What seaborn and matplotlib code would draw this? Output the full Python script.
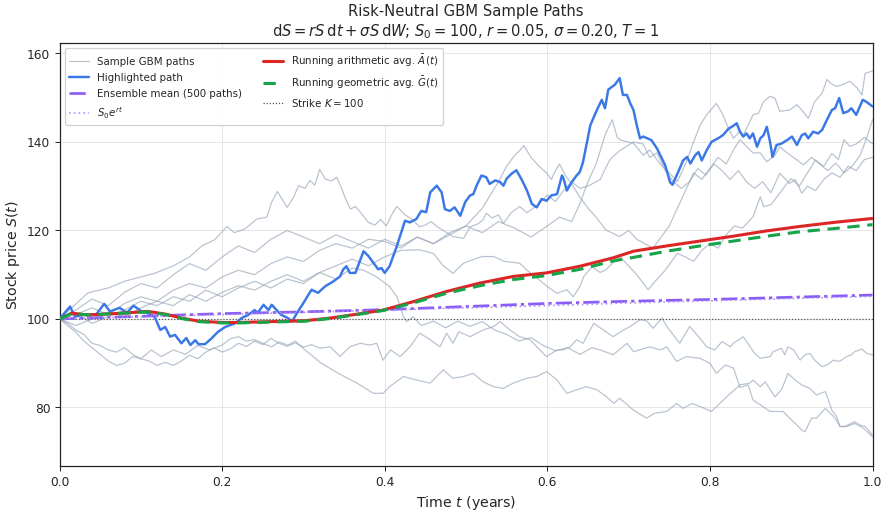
import numpy as np
import pandas as pd
import matplotlib
matplotlib.use("Agg")
import matplotlib.pyplot as plt
import seaborn as sns

# ---------------- data ----------------
blue_t = [0, 0.013, 0.019, 0.03, 0.045, 0.055, 0.062, 0.074, 0.083, 0.091, 0.101, 0.109, 0.117, 0.124, 0.13,
          0.136, 0.142, 0.15, 0.156, 0.161, 0.167, 0.171, 0.179, 0.187, 0.195, 0.204, 0.216, 0.224, 0.232, 0.24,
          0.244, 0.251, 0.257, 0.261, 0.267, 0.273, 0.281, 0.286, 0.292, 0.3, 0.31, 0.318, 0.327, 0.337, 0.345,
          0.349, 0.353, 0.357, 0.364, 0.374, 0.38, 0.386, 0.392, 0.396, 0.4, 0.406, 0.415, 0.425, 0.431, 0.439,
          0.445, 0.451, 0.456, 0.464, 0.47, 0.474, 0.48, 0.486, 0.493, 0.499, 0.505, 0.509, 0.513, 0.519, 0.525,
          0.529, 0.536, 0.542, 0.546, 0.55, 0.556, 0.562, 0.569, 0.575, 0.581, 0.587, 0.593, 0.599, 0.605, 0.612,
          0.618, 0.62, 0.624, 0.63, 0.636, 0.64, 0.644, 0.653, 0.661, 0.667, 0.671, 0.675, 0.683, 0.689, 0.693,
          0.698, 0.702, 0.706, 0.71, 0.714, 0.718, 0.728, 0.735, 0.741, 0.745, 0.751, 0.754, 0.761, 0.767, 0.772,
          0.776, 0.782, 0.786, 0.79, 0.796, 0.802, 0.806, 0.81, 0.816, 0.823, 0.827, 0.833, 0.837, 0.841, 0.845,
          0.849, 0.853, 0.858, 0.862, 0.866, 0.87, 0.874, 0.877, 0.882, 0.888, 0.895, 0.901, 0.907, 0.913, 0.917,
          0.921, 0.927, 0.933, 0.938, 0.944, 0.95, 0.954, 0.959, 0.964, 0.97, 0.974, 0.98, 0.988, 0.992, 1.0]
blue_v = [100, 102.8, 100.5, 101, 101, 103.4, 101.7, 102.5, 101.4, 103, 101.7, 101.3, 100.5, 97.5, 98.2,
          96, 96.4, 94.5, 95.7, 94.1, 95.2, 94.3, 94.3, 95.6, 97.1, 98.2, 99, 100.2, 100.9, 102,
          101.4, 103.2, 102, 103.2, 102, 100.9, 100.2, 99.4, 101.3, 103.6, 106.6, 105.9, 107.4, 108.5, 109.6,
          111.2, 111.9, 110.4, 110.4, 115.3, 114.2, 112.7, 111.2, 111.5, 110.4, 111.9, 116.5, 122.2, 121.8, 122.6,
          124.4, 124.1, 128.6, 130.1, 128.6, 124.8, 124.4, 125.2, 123.3, 126.4, 127.9, 128.2, 130.1, 132.4, 132,
          130.5, 131.3, 130.9, 130.1, 131.7, 132.8, 133.6, 131.3, 129, 126, 125.2, 127.1, 126.7, 127.9, 128.2,
          132.4, 131.7, 129, 130.9, 132.4, 133.2, 135.5, 143.8, 147.2, 149.5, 147.6, 151.8, 152.9, 154.4, 150.6,
          150.6, 148.7, 147.2, 143.8, 140.8, 141.2, 140.4, 138.5, 136.2, 134.7, 130.9, 130.3, 133.2, 135.8, 136.6,
          135.1, 137, 137.7, 135.8, 138.1, 140, 140.4, 140.8, 141.5, 143, 143.4, 144.2, 142.3, 141.2, 141.9,
          140.8, 141.9, 138.9, 140.8, 141.5, 143.4, 140, 136.6, 139.3, 139.6, 140.4, 141.2, 139.3, 141.5, 141.9,
          140.8, 142.3, 141.9, 142.7, 145, 147.2, 147.6, 149.9, 146.5, 146.9, 147.6, 146.1, 149.5, 149.1, 148]

avg_t = [0, 0.015, 0.035, 0.077, 0.109, 0.13, 0.15, 0.171, 0.2, 0.22, 0.261, 0.302, 0.333, 0.363, 0.398,
         0.435, 0.476, 0.517, 0.558, 0.599, 0.64, 0.681, 0.706, 0.747, 0.788, 0.829, 0.87, 0.911, 0.952, 1.0]
arith_v = [100, 101.3, 100.9, 101.3, 101.7, 101.1, 100.2, 99.5, 99.2, 99.2, 99.4, 99.6, 100.2, 101.0, 102.0,
           103.9, 106.2, 108.1, 109.6, 110.4, 111.9, 113.8, 115.3, 116.5, 117.6, 118.7, 119.9, 120.9, 121.8, 122.7]
geom_v = [100, 101.2, 100.9, 101.3, 101.6, 101.0, 100.1, 99.4, 99.1, 99.1, 99.3, 99.5, 100.1, 100.9, 101.9,
          103.6, 105.8, 107.5, 108.9, 109.8, 111.2, 113.1, 113.9, 115.3, 116.5, 117.6, 118.7, 119.7, 120.4, 121.3]

ref_t = [0, 0.1, 0.2, 0.3, 0.4, 0.5, 0.6, 0.7, 0.8, 0.9, 1.0]
ens_v = [100, 100.6, 101.2, 101.6, 102.1, 102.8, 103.5, 104.0, 104.4, 104.9, 105.4]
fwd_v = [100, 100.5, 101.0, 101.5, 102.0, 102.5, 103.0, 103.6, 104.1, 104.6, 105.1]
strike = 100

# ---- grey sample paths (time, value) ----
low_t = [0, 0.01, 0.02, 0.03, 0.04, 0.05, 0.06, 0.07, 0.08, 0.09, 0.1, 0.113, 0.125, 0.14, 0.155, 0.17, 0.185,
         0.2, 0.21, 0.22, 0.23, 0.24, 0.25, 0.261, 0.27, 0.281, 0.29, 0.302, 0.312, 0.322, 0.333, 0.343, 0.366,
         0.386, 0.398, 0.406, 0.423, 0.439, 0.456, 0.472, 0.484, 0.497, 0.509, 0.521, 0.534, 0.546, 0.558, 0.575,
         0.587, 0.599, 0.612, 0.624, 0.636, 0.648, 0.661, 0.673, 0.682, 0.689, 0.706, 0.722, 0.732, 0.747, 0.759,
         0.767, 0.778, 0.788, 0.802, 0.812, 0.823, 0.837, 0.849, 0.853, 0.862, 0.868, 0.88, 0.888, 0.896, 0.905,
         0.913, 0.923, 0.931, 0.942, 0.95, 0.956, 0.96, 0.966, 0.978, 0.985, 0.991, 1.0]
low_v = [100, 98.5, 97, 95, 93.5, 92, 90.5, 89.5, 90, 91.5, 91, 93, 91.5, 93, 92, 94, 93,
         94.1, 95.5, 96, 95, 95.3, 94.5, 93.7, 94.8, 94.1, 95, 93, 91.5, 90, 88.8, 87.7, 85.5,
         83.2, 83.2, 84.7, 87, 86.2, 85.5, 88.5, 86.6, 87, 87.7, 85.8, 84.7, 84.3, 85.5, 86.6,
         87, 88.1, 86.2, 83.2, 84, 84.7, 84, 82.4, 80.9, 82.1, 79.4, 77.6, 78.7, 79.1, 80.9,
         79.8, 80.9, 80.2, 79.1, 80.9, 82.8, 85.1, 85.5, 86.2, 84.7, 85.8, 82.4, 84, 87.7, 86.2,
         85.1, 84.3, 82.8, 83.6, 79.4, 77.9, 75.7, 75.7, 76.8, 76, 75.7, 73.8]

e_t = [0, 0.01, 0.02, 0.03, 0.04, 0.05, 0.06, 0.07, 0.08, 0.09, 0.1, 0.11, 0.12, 0.13, 0.14, 0.15, 0.16, 0.17,
       0.18, 0.19, 0.2, 0.21, 0.22, 0.23, 0.24, 0.25, 0.26, 0.27, 0.28, 0.29, 0.3, 0.31, 0.32, 0.333,
       0.345, 0.357, 0.37, 0.382, 0.39, 0.398, 0.407, 0.419, 0.431, 0.443, 0.456, 0.468, 0.476, 0.484, 0.491,
       0.505, 0.521, 0.534, 0.542, 0.554, 0.566, 0.579, 0.587, 0.599, 0.612, 0.62, 0.628, 0.636, 0.644, 0.657,
       0.669, 0.681, 0.694, 0.702, 0.714, 0.722, 0.73, 0.741, 0.747, 0.763, 0.775, 0.788, 0.796, 0.806, 0.815,
       0.825, 0.829, 0.841, 0.855, 0.862, 0.874, 0.878, 0.888, 0.892, 0.896, 0.903, 0.911, 0.917, 0.923, 0.929,
       0.938, 0.944, 0.952, 0.958, 0.962, 0.968, 0.974, 0.978, 0.987, 0.993, 1.0]
e_v = [100, 99, 97.5, 96.5, 94.5, 94, 93, 92.5, 93.5, 92, 91, 90.5, 89.5, 90.2, 89.5, 90.5, 91.8, 91,
       92.5, 93.5, 92.5, 93.2, 94.5, 93.8, 95, 94.2, 95.6, 94.5, 93.8, 94.6, 93.6, 94.2, 93.4, 93.7,
       91.5, 93.7, 94.5, 94.1, 94.5, 90.7, 93, 91.5, 93.7, 96.8, 95.3, 93.7, 96.8, 94.5, 97.1,
       96, 97.5, 98.3, 99.4, 97.5, 96, 95.3, 93.7, 91.5, 93, 93, 93.7, 95.3, 94.5, 99,
       97.5, 96, 97.5, 98.3, 99.8, 99.6, 97.9, 100.2, 98.3, 94.5, 98.3, 95.6, 93.7, 93, 94.9,
       93.7, 94.5, 96, 92.2, 91.1, 91.5, 92.6, 93.4, 91.9, 93.7, 93, 90.7, 91.9, 92.2, 90.7,
       89.2, 89.6, 90.7, 90.4, 90.7, 91.5, 91.9, 92.6, 93.2, 92.2, 91.9]

d_t = [0, 0.02, 0.04, 0.06, 0.08, 0.1, 0.12, 0.14, 0.16, 0.18, 0.2, 0.22, 0.24, 0.26, 0.28, 0.3, 0.32, 0.34,
       0.36, 0.374, 0.39, 0.406, 0.415, 0.423, 0.427, 0.435, 0.445, 0.46, 0.475, 0.49, 0.505, 0.52, 0.535, 0.55,
       0.565, 0.58, 0.595, 0.61, 0.625, 0.64, 0.655, 0.665, 0.681, 0.698, 0.706, 0.726, 0.739, 0.747, 0.759,
       0.771, 0.788, 0.8, 0.808, 0.819, 0.829, 0.837, 0.847, 0.853, 0.862, 0.874, 0.882, 0.89, 0.898, 0.905,
       0.913, 0.917, 0.925, 0.931, 0.942, 0.948, 0.954, 0.96, 0.968, 0.978, 0.989, 1.0]
d_v = [100, 101.5, 99, 100.5, 102, 104, 103, 105, 104, 106.5, 105, 107, 108.5, 107, 109, 108, 110.5, 109,
       111.5, 111, 109.5, 107.3, 105, 100.5, 99.4, 100.5, 98.5, 99.5, 98, 99.5, 98.3, 99.4, 97.5, 96.5,
       95, 95.8, 94, 92.8, 93.5, 92, 93.5, 93, 91.9, 94.5, 92.6, 93.7, 93, 93.7, 90.4,
       91.5, 91.1, 90, 87.7, 89.6, 88.9, 84.5, 85.1, 81.7, 80.6, 79.1, 79.1, 79.1, 77.6, 76.4,
       74.9, 74.5, 77.6, 77.6, 79.8, 78.7, 77.6, 75.7, 75.7, 76.4, 75.3, 73.4]

a_t = [0, 0.035, 0.06, 0.08, 0.1, 0.117, 0.14, 0.16, 0.175, 0.191, 0.206, 0.215, 0.228, 0.243, 0.255, 0.261,
       0.268, 0.28, 0.288, 0.294, 0.302, 0.308, 0.314, 0.32, 0.327, 0.335, 0.341, 0.347, 0.352, 0.358, 0.364,
       0.37, 0.38, 0.388, 0.395, 0.402, 0.41, 0.415, 0.425, 0.433, 0.443, 0.45, 0.457, 0.465, 0.484, 0.497,
       0.505, 0.515, 0.521, 0.525, 0.532, 0.54, 0.546, 0.555, 0.566, 0.575, 0.59, 0.6, 0.61, 0.62, 0.63, 0.64,
       0.65, 0.665, 0.677, 0.689, 0.706, 0.718, 0.726, 0.735, 0.745, 0.755, 0.765, 0.775, 0.785, 0.795, 0.805,
       0.815, 0.825, 0.835, 0.845, 0.855, 0.865, 0.875, 0.886, 0.898, 0.905, 0.913, 0.92, 0.93, 0.94, 0.95,
       0.96, 0.97, 0.98, 0.99, 1.0]
a_v = [100, 105.9, 107, 108.5, 109.5, 110.3, 112, 114, 116.5, 117.9, 120.9, 119.5, 120.3, 122.6, 123, 126.4,
       128.8, 125.2, 127.5, 130.1, 129.5, 131.3, 130.2, 133.8, 131.6, 131.2, 132, 129.5, 127.1, 124.8, 125.4,
       124.1, 121.8, 121.2, 122.5, 121, 124, 125.4, 123.5, 122.6, 120.8, 121.2, 122, 120.8, 118.6, 118.2,
       120.8, 121.5, 122.4, 123.9, 122.8, 123.5, 121.6, 123.9, 125.4, 124, 126, 128, 126.5, 129, 131, 129.5,
       130, 131.5, 136, 138, 140, 139.5, 136.5, 137.5, 133.5, 131, 129.5, 131, 134, 132.5, 135,
       133.5, 131.5, 133.5, 131, 129.5, 131, 128.5, 132.9, 130.6, 131.5, 128.4, 130, 129, 131.5, 133,
       132, 134.5, 133.5, 136, 136.5]

b_t = [0, 0.02, 0.04, 0.06, 0.08, 0.1, 0.12, 0.14, 0.16, 0.18, 0.2, 0.22, 0.24, 0.26, 0.28, 0.3, 0.32, 0.34,
       0.36, 0.38, 0.4, 0.42, 0.443, 0.46, 0.472, 0.484, 0.497, 0.51, 0.52, 0.534, 0.547, 0.566, 0.575, 0.585,
       0.6, 0.612, 0.624, 0.632, 0.64, 0.645, 0.655, 0.665, 0.672, 0.689, 0.7, 0.71, 0.724, 0.735, 0.745, 0.76,
       0.77, 0.78, 0.79, 0.8, 0.81, 0.82, 0.83, 0.84, 0.853, 0.862, 0.866, 0.875, 0.886, 0.893, 0.9, 0.91, 0.92,
       0.93, 0.94, 0.95, 0.958, 0.965, 0.972, 0.98, 0.99, 1.0]
b_v = [100, 98.5, 100, 101.5, 100.5, 102.5, 104, 103, 105.5, 104, 106, 107.5, 106.5, 108.5, 110, 108.5, 110.5,
       112, 113.5, 112, 114, 115.5, 115.6, 114.8, 112, 110.3, 112.6, 113.5, 114.1, 114.1, 113, 112.6, 111,
       109.6, 107.3, 105.8, 106.6, 105, 107.3, 109.6, 111.8, 110.5, 111.1, 114.1, 112, 110, 106.6, 109, 111,
       114.8, 114, 113, 115.5, 117, 116, 119, 121, 120.5, 123.1, 127.6, 125.4, 125.8, 128.4, 130.2, 131.7,
       130, 133, 135.9, 134.5, 137.4, 136, 140.5, 139, 139.5, 141, 139.6]

p_t = [0, 0.02, 0.04, 0.06, 0.08, 0.1, 0.12, 0.14, 0.16, 0.18, 0.2, 0.22, 0.24, 0.26, 0.28, 0.3, 0.32, 0.34,
       0.36, 0.38, 0.4, 0.42, 0.44, 0.46, 0.48, 0.5, 0.51, 0.52, 0.53, 0.54, 0.55, 0.56, 0.566, 0.571, 0.58,
       0.59, 0.6, 0.605, 0.61, 0.615, 0.622, 0.63, 0.64, 0.652, 0.66, 0.672, 0.689, 0.7, 0.71, 0.72, 0.73, 0.74,
       0.75, 0.76, 0.77, 0.78, 0.79, 0.8, 0.81, 0.82, 0.83, 0.837, 0.845, 0.853, 0.862, 0.87, 0.88, 0.886,
       0.895, 0.905, 0.915, 0.925, 0.935, 0.945, 0.955, 0.965, 0.975, 0.985, 0.993, 1.0]
p_v = [100, 102, 104.5, 103, 106, 108, 107, 110, 112.5, 111, 114, 116.5, 115, 118, 120, 118.5, 117, 119,
       117.5, 116, 118, 116.5, 118.5, 117, 119, 121, 123, 125, 128, 131, 134.5, 137, 138, 139.2, 136.5,
       134.5, 132.8, 131.5, 133.5, 135, 132.5, 130.5, 127.5, 124.6, 123, 120.1, 118.6, 120, 118, 117, 116, 118.5,
       121, 125, 129, 133, 131.5, 134, 136.5, 135, 138.5, 140.5, 139, 137.5, 137.5, 135.5, 137, 138.9,
       137.5, 136.2, 134.8, 136.5, 135, 133.5, 135.2, 133, 134.5, 137, 141, 145]

u_t = [0, 0.02, 0.04, 0.06, 0.08, 0.1, 0.12, 0.14, 0.16, 0.18, 0.2, 0.22, 0.24, 0.26, 0.28, 0.3, 0.32, 0.34,
       0.36, 0.38, 0.4, 0.42, 0.44, 0.46, 0.48, 0.5, 0.52, 0.54, 0.56, 0.58, 0.6, 0.615, 0.63, 0.64, 0.65, 0.66,
       0.672, 0.68, 0.686, 0.69, 0.706, 0.718, 0.726, 0.738, 0.75, 0.76, 0.77, 0.78, 0.788, 0.796, 0.808, 0.816,
       0.823, 0.829, 0.837, 0.841, 0.847, 0.853, 0.86, 0.866, 0.874, 0.88, 0.886, 0.898, 0.907, 0.913, 0.921,
       0.929, 0.938, 0.944, 0.948, 0.956, 0.964, 0.972, 0.981, 0.987, 0.991, 1.0]
u_v = [100, 101, 102.5, 101, 103.5, 105, 104, 106.5, 108, 107, 109.5, 111, 110, 112.5, 114, 113, 115.5, 117,
       116, 118, 117.5, 116, 118.5, 117, 119.5, 121, 119.5, 122, 120.5, 118.5, 121, 123, 122, 126, 131, 135,
       142, 145, 141, 140.4, 139.7, 137, 138.2, 135.2, 133, 131, 135, 140, 143.8, 146.1, 148.7, 146.1,
       143, 140.8, 142.5, 141.5, 143.8, 146.1, 146.5, 149.1, 150.3, 149.9, 146.9, 147.2, 148.4, 147.2, 145.3,
       149.1, 151, 154.1, 153.3, 152.5, 153, 153.7, 152.2, 150.6, 155.5, 156]

# ---------------- build tables ----------------
grey_paths = [(low_t, low_v), (e_t, e_v), (d_t, d_v), (a_t, a_v), (b_t, b_v), (p_t, p_v), (u_t, u_v)]
frames = []
for i, (tt, vv) in enumerate(grey_paths):
    frames.append(pd.DataFrame({"t": tt, "S": vv, "path": i}))
grey_df = pd.concat(frames, ignore_index=True)
blue_df = pd.DataFrame({"t": blue_t, "S": blue_v})
avg_df = pd.DataFrame({"t": avg_t, "A": arith_v, "G": geom_v})
ref_df = pd.DataFrame({"t": ref_t, "ens": ens_v, "fwd": fwd_v})

# ---------------- style ----------------
sns.set_style("ticks")
plt.rcParams["font.family"] = ["DejaVu Sans"]
plt.rcParams["mathtext.fontset"] = "dejavusans"

fig, ax = plt.subplots(figsize=(10, 5.81), dpi=88.5)
fig.subplots_adjust(left=59.5 / 885, right=872.5 / 885, top=1 - 43.5 / 514, bottom=1 - 466.5 / 514)

grey_col = "#94a3b8"
sns.lineplot(data=grey_df, x="t", y="S", units="path", estimator=None, color=grey_col,
             lw=1.0, alpha=0.65, ax=ax, sort=False, label="Sample GBM paths")
sns.lineplot(data=blue_df, x="t", y="S", color="#3b78e7", lw=2.0, ax=ax, sort=False,
             label="Highlighted path", zorder=4)
sns.lineplot(data=ref_df, x="t", y="ens", color="#8b5cf6", lw=2.2, ax=ax,
             label="Ensemble mean (500 paths)", zorder=5, linestyle=(0, (6, 1.5, 1.2, 1.5)))
sns.lineplot(data=ref_df, x="t", y="fwd", color="#a78bfa", lw=1.3, ax=ax,
             label=r"$S_0e^{rt}$", zorder=5, linestyle=(0, (1, 2)))
sns.lineplot(data=avg_df, x="t", y="A", color="#dc2626", lw=2.5, ax=ax,
             label=r"Running arithmetic avg. $\bar{A}(t)$", zorder=6)
sns.lineplot(data=avg_df, x="t", y="G", color="#16a34a", lw=2.5, ax=ax,
             label=r"Running geometric avg. $\bar{G}(t)$", zorder=7, linestyle=(0, (4, 2.5)))
ax.axhline(strike, color="#555555", lw=1.0, linestyle=(0, (1, 1.5)), zorder=3,
           label=r"Strike $K = 100$")

ax.set_xlim(0, 1)
ax.set_ylim(66.67, 162.26)
ax.set_xticks([0, 0.2, 0.4, 0.6, 0.8, 1.0])
ax.set_yticks([80, 100, 120, 140, 160])
ax.grid(True, color="#e6e6e6", lw=0.8)
ax.set_axisbelow(True)
for s in ax.spines.values():
    s.set_color("#222222")
    s.set_linewidth(1.0)
ax.tick_params(labelsize=10, length=4, color="#222222")

ax.set_xlabel(r"Time $t$ (years)", fontsize=11.5)
ax.set_ylabel(r"Stock price $S(t)$", fontsize=11.5)
ax.set_title("Risk-Neutral GBM Sample Paths\n"
             r"$\mathrm{d}S = rS\,\mathrm{d}t + \sigma S\,\mathrm{d}W$; $S_0 = 100$, $r = 0.05$, "
             r"$\sigma = 0.20$, $T = 1$", fontsize=12, pad=6)

h, l = ax.get_legend_handles_labels()
seen = {}
for hh, ll in zip(h, l):
    if ll not in seen:
        seen[ll] = hh
ax.legend(list(seen.values()), list(seen.keys()), loc="upper left", ncol=2, fontsize=8.3,
          labelspacing=0.6, frameon=True, framealpha=0.9, edgecolor="#cccccc", columnspacing=2.0)

fig.savefig("out.png", dpi=88.5)
